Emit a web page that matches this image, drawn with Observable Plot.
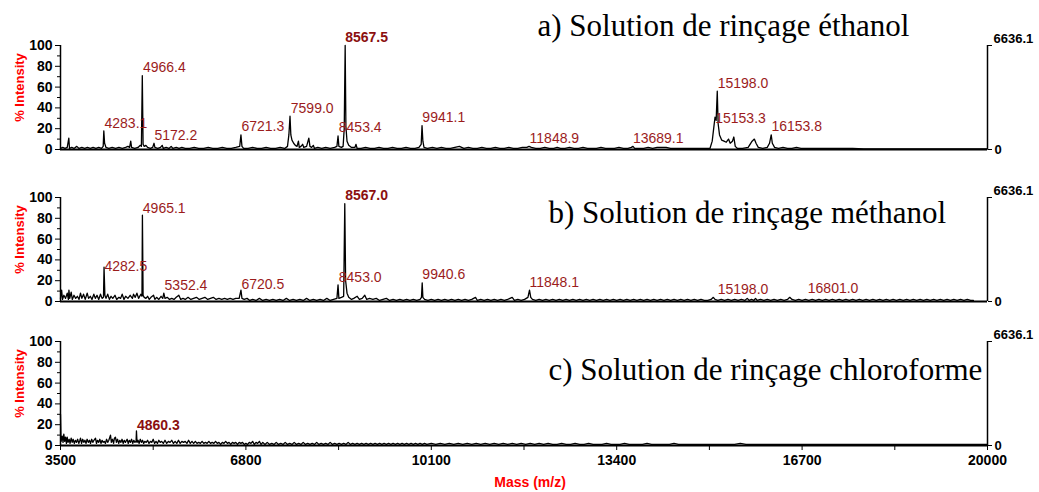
<!DOCTYPE html>
<html><head><meta charset="utf-8">
<script src="https://cdn.jsdelivr.net/npm/d3@7"></script>
<script src="https://cdn.jsdelivr.net/npm/@observablehq/plot@0.6"></script>
<style>body{margin:0;background:#fff}#chart{width:1039px;height:492px}#chart svg{display:block}</style>
</head><body><div id="chart"></div>
<script>
const xTicksMajor = [3500, 6800, 10100, 13400, 16700, 20000];
const xTicksMinor = [5150, 8450, 11750, 15050, 18350];
const yTicks = [0, 20, 40, 60, 80, 100];
const yTicksMinor = [10, 30, 50, 70, 90];
const maxCounts = 6636.1;
const titles = ["a) Solution de rinçage éthanol", "b) Solution de rinçage méthanol", "c) Solution de rinçage chloroforme"];
const xLabel = "Mass (m/z)";
const yLabel = "% Intensity";

// [mass, % intensity]
const spectrumA = [[3500,1],[3540,2],[3580,1],[3620,2],[3648,11],[3660,1],[3700,2],[3740,1],[3790,3],[3830,1],[3880,2],[3930,1],[3980,2],[4030,1],[4080,2],[4130,1],[4180,2],[4230,1],[4260,3],[4271,18],[4285,6],[4310,2],[4360,1],[4420,2],[4480,1],[4540,2],[4600,1],[4660,2],[4700,3],[4730,2],[4750,8],[4765,2],[4820,1],[4880,2],[4920,4],[4940,3],[4956,71],[4970,5],[4990,3],[5020,4],[5050,2],[5100,1],[5140,2],[5165,6],[5180,2],[5230,1],[5280,2],[5310,4],[5330,1],[5380,2],[5430,1],[5470,3],[5500,1],[5560,2],[5610,1],[5660,2],[5720,1],[5800,1],[5880,2],[5960,1],[6050,1],[6130,2],[6210,1],[6300,1],[6380,2],[6460,1],[6540,1],[6620,2],[6690,3],[6712,14],[6730,3],[6760,1],[6840,1],[6920,2],[7000,1],[7080,1],[7160,2],[7240,1],[7330,1],[7410,2],[7490,1],[7540,3],[7565,14],[7585,32],[7600,14],[7620,9],[7650,6],[7680,4],[7710,3],[7735,8],[7750,2],[7780,3],[7810,5],[7830,2],[7880,3],[7920,11],[7940,3],[7970,2],[8000,4],[8020,1],[8080,2],[8150,1],[8220,2],[8300,1],[8380,2],[8420,3],[8440,13],[8455,3],[8500,2],[8530,3],[8550,20],[8567,100],[8580,22],[8600,8],[8630,4],[8680,2],[8740,2],[8760,5],[8780,1],[8850,1],[8930,2],[9010,1],[9090,1],[9170,2],[9250,1],[9330,1],[9410,2],[9490,1],[9570,1],[9650,2],[9730,1],[9810,1],[9880,2],[9920,5],[9935,23],[9950,8],[9970,2],[10030,1],[10120,2],[10200,1],[10280,2],[10360,1],[10440,1],[10520,2],[10600,3],[10680,1],[10760,2],[10840,1],[10920,1],[11000,2],[11080,1],[11160,1],[11240,2],[11320,1],[11400,1],[11480,2],[11560,1],[11640,1],[11720,2],[11800,2],[11840,3],[11880,2],[11960,1],[12040,1],[12120,2],[12200,1],[12280,1],[12340,2],[12400,1],[12480,1],[12560,2],[12640,1],[12720,1],[12800,2],[12880,1],[12960,1],[13040,1],[13120,2],[13200,1],[13280,1],[13360,1],[13440,2],[13520,1],[13600,1],[13660,2],[13690,3],[13720,1],[13800,1],[13880,1],[13960,2],[14040,1],[14120,2],[14200,2],[14280,2],[14360,1],[14440,1],[14520,1],[14600,1],[14680,1],[14760,1],[14840,1],[14920,1],[15000,1],[15060,1],[15100,8],[15130,22],[15150,31],[15170,28],[15190,56],[15205,25],[15230,14],[15270,9],[15310,8],[15350,7],[15390,10],[15420,6],[15460,8],[15485,12],[15510,3],[15550,1],[15640,1],[15740,2],[15810,8],[15850,10],[15880,6],[15920,2],[16000,1],[16080,2],[16120,6],[16150,14],[16170,6],[16210,2],[16280,1],[16360,2],[16440,1],[16520,1],[16600,2],[16680,1],[16760,1],[16840,1],[16920,1],[17000,1],[17150,1],[17300,1],[17450,1],[17600,1],[17800,0.5],[18000,0.5],[18500,0.5],[19000,0.5],[19500,0.5],[20000,0.5]];

const spectrumB = [[3500,3],[3520,11],[3535,2],[3560,6],[3590,3],[3620,8],[3640,2],[3650,11],[3665,3],[3690,9],[3710,2],[3740,6],[3770,3],[3800,5],[3830,2],[3856,8],[3880,3],[3910,7],[3940,2],[3975,8],[4000,3],[4030,5],[4060,2],[4093,7],[4120,3],[4150,6],[4180,2],[4212,7],[4240,3],[4265,4],[4275,33],[4290,6],[4310,3],[4340,7],[4370,2],[4400,5],[4430,3],[4470,6],[4500,2],[4540,4],[4570,3],[4598,7],[4630,2],[4660,5],[4700,3],[4740,6],[4780,3],[4800,7],[4830,4],[4860,8],[4890,3],[4930,7],[4950,5],[4958,83],[4970,6],[4990,4],[5020,3],[5050,5],[5080,2],[5110,4],[5156,6],[5180,2],[5210,4],[5250,2],[5290,5],[5320,3],[5339,8],[5360,3],[5400,4],[5440,2],[5480,3],[5520,2],[5560,4],[5606,6],[5640,2],[5680,3],[5720,2],[5770,4],[5820,2],[5870,3],[5920,4],[5970,2],[6020,3],[6070,4],[6120,2],[6170,3],[6220,4],[6270,2],[6320,3],[6370,2],[6420,3],[6470,2],[6520,3],[6570,2],[6620,3],[6680,3],[6712,11],[6730,3],[6770,2],[6820,3],[6870,1],[6920,2],[6980,1],[7040,3],[7100,1],[7160,2],[7220,1],[7280,2],[7340,1],[7400,2],[7460,1],[7520,3],[7580,1],[7640,2],[7700,1],[7760,2],[7820,1],[7880,3],[7940,1],[8000,2],[8060,1],[8120,2],[8180,1],[8240,3],[8300,1],[8360,2],[8420,3],[8440,16],[8455,3],[8500,4],[8540,5],[8560,94],[8575,20],[8600,8],[8630,4],[8680,2],[8720,3],[8781,5],[8820,2],[8870,3],[8916,6],[8950,2],[9000,3],[9060,2],[9120,3],[9180,1],[9240,2],[9300,3],[9360,1],[9420,2],[9480,1],[9540,2],[9600,1],[9660,2],[9720,1],[9780,2],[9840,1],[9900,2],[9925,4],[9938,18],[9950,4],[9980,2],[10040,1],[10100,2],[10160,1],[10220,2],[10280,1],[10340,2],[10400,1],[10460,2],[10520,1],[10580,2],[10640,1],[10700,2],[10760,1],[10820,2],[10887,4],[10920,1],[10980,2],[11040,1],[11100,2],[11160,1],[11220,2],[11280,1],[11340,2],[11400,1],[11460,2],[11540,4],[11580,1],[11640,2],[11700,1],[11760,2],[11820,4],[11848,11],[11870,4],[11900,2],[11960,1],[12020,2],[12080,1],[12140,2],[12200,1],[12260,2],[12320,1],[12380,2],[12440,1],[12500,2],[12560,1],[12620,2],[12680,1],[12740,2],[12800,1],[12860,2],[12920,1],[12980,2],[13040,1],[13100,2],[13160,1],[13220,2],[13280,1],[13340,2],[13400,1],[13460,2],[13520,1],[13580,2],[13640,1],[13700,2],[13760,1],[13820,2],[13880,1],[13940,2],[14000,1],[14060,2],[14120,1],[14180,2],[14240,1],[14300,2],[14360,1],[14420,2],[14480,1],[14540,2],[14600,1],[14660,2],[14720,1],[14780,2],[14840,1],[14900,2],[14960,1],[15020,1],[15080,2],[15120,4],[15150,2],[15200,1],[15260,2],[15320,1],[15380,2],[15440,1],[15500,2],[15560,1],[15620,2],[15680,1],[15723,3],[15760,1],[15800,2],[15840,1],[15871,3],[15900,1],[15960,2],[16020,1],[16080,2],[16140,1],[16200,2],[16260,1],[16320,2],[16380,1],[16440,2],[16480,4],[16520,2],[16580,1],[16640,2],[16700,1],[16760,2],[16820,1],[16880,2],[16940,1],[17000,2],[17060,1],[17120,2],[17180,1],[17240,2],[17300,1],[17360,2],[17420,1],[17480,2],[17540,1],[17600,2],[17660,1],[17720,2],[17780,1],[17840,2],[17900,1],[17960,2],[18020,1],[18080,2],[18140,1],[18200,2],[18260,1],[18320,2],[18380,1],[18440,2],[18500,1],[18560,2],[18620,1],[18680,2],[18740,1],[18800,2],[18860,1],[18920,2],[18980,1],[19040,2],[19100,1],[19160,2],[19220,1],[19280,2],[19340,1],[19400,2],[19460,1],[19520,2],[19580,1],[19640,2],[19700,1],[19750,1]];

const spectrumC = [[3500,30],[3510,4],[3530,9],[3545,3],[3559,11],[3575,4],[3590,8],[3605,2],[3619,8],[3635,3],[3655,6],[3670,2],[3690,7],[3708,3],[3725,6],[3745,2],[3765,5],[3785,3],[3805,6],[3825,2],[3845,5],[3856,7],[3875,2],[3895,6],[3915,3],[3935,5],[3955,2],[3974,6],[3995,3],[4015,5],[4035,2],[4055,6],[4075,3],[4095,5],[4123,7],[4140,2],[4160,5],[4180,3],[4200,6],[4220,2],[4240,5],[4260,3],[4280,4],[4300,2],[4320,6],[4340,3],[4360,5],[4390,10],[4405,3],[4425,6],[4445,2],[4460,7],[4478,8],[4495,3],[4515,6],[4535,2],[4555,5],[4575,3],[4595,6],[4615,2],[4635,5],[4655,3],[4686,6],[4705,2],[4725,5],[4745,3],[4765,6],[4785,2],[4805,5],[4825,3],[4845,4],[4852,14],[4862,3],[4880,5],[4900,2],[4920,6],[4940,3],[4960,5],[4980,2],[5000,4],[5025,3],[5050,5],[5075,2],[5100,4],[5125,3],[5150,6],[5175,2],[5200,4],[5225,2],[5250,5],[5275,3],[5300,4],[5330,2],[5360,5],[5390,2],[5420,4],[5450,3],[5480,5],[5510,2],[5540,4],[5570,2],[5600,5],[5630,2],[5660,4],[5690,3],[5720,4],[5750,2],[5780,5],[5810,2],[5840,4],[5870,2],[5900,4],[5930,2],[5960,3],[5990,2],[6020,4],[6050,2],[6080,3],[6110,2],[6140,4],[6170,2],[6200,3],[6230,2],[6260,4],[6290,2],[6320,3],[6350,1],[6380,3],[6410,2],[6440,4],[6470,2],[6500,3],[6530,1],[6560,3],[6590,2],[6620,3],[6650,1],[6680,3],[6710,2],[6740,3],[6770,1],[6800,2],[6830,1],[6860,3],[6890,2],[6920,4],[6950,1],[6980,3],[7010,2],[7040,4],[7070,1],[7100,3],[7140,1],[7180,3],[7220,1],[7260,2],[7300,1],[7340,3],[7380,1],[7420,2],[7460,1],[7500,3],[7540,1],[7580,2],[7620,1],[7660,3],[7700,1],[7740,2],[7780,1],[7820,3],[7860,1],[7900,2],[7940,1],[7980,2],[8020,1],[8060,3],[8100,1],[8140,2],[8180,1],[8220,2],[8260,1],[8300,3],[8340,1],[8380,2],[8420,1],[8460,2],[8500,1],[8540,2],[8580,1],[8620,3],[8660,1],[8700,2],[8740,1],[8780,2],[8820,1],[8860,2],[8900,1],[8940,2],[8980,1],[9020,2],[9060,1],[9100,2],[9140,1],[9180,2],[9220,1],[9260,2],[9300,1],[9340,2],[9380,1],[9420,2],[9460,1],[9500,2],[9540,1],[9580,2],[9620,1],[9660,2],[9700,1],[9740,2],[9780,1],[9820,2],[9860,1],[9900,2],[9940,1],[9980,2],[10020,1],[10100,2],[10180,1],[10260,2],[10340,1],[10420,2],[10500,1],[10580,2],[10660,1],[10740,2],[10820,1],[10900,2],[10980,1],[11060,2],[11140,1],[11220,2],[11300,1],[11380,2],[11460,1],[11540,2],[11620,1],[11700,2],[11780,1],[11860,2],[11940,1],[12020,2],[12100,1],[12180,2],[12260,1],[12340,1],[12420,2],[12500,1],[12580,1],[12660,2],[12740,1],[12820,1],[12900,2],[12980,1],[13060,1],[13140,1],[13220,2],[13300,1],[13380,1],[13460,1],[13540,2],[13620,1],[13700,1],[13780,1],[13860,1],[13940,2],[14020,1],[14100,1],[14180,1],[14260,1],[14340,1],[14420,2],[14500,1],[14600,1],[14700,1],[14800,1],[14900,1],[15000,1],[15100,1],[15200,1],[15300,1],[15400,1],[15500,1],[15600,2],[15700,1],[15800,1],[15900,1],[16000,1],[16200,1],[16400,1],[16600,1],[16800,1],[17000,1],[17200,1],[17400,1],[17600,1],[17800,1],[18000,1],[18300,1],[18600,1],[18900,1],[19200,1],[19500,1],[19800,1],[20000,1]];

// peak labels: [mass, % intensity of labelled peak]
const labelsA = [[4283.1,17],[4966.4,71],[5172.2,6],[6721.3,14],[7599.0,32],[8453.4,13],[8567.5,100],[9941.1,23],[11848.9,3],[13689.1,3],[15198.0,56],[15153.3,22],[16153.8,14]];
const labelsB = [[4282.5,26],[4965.1,82],[5352.4,8],[6720.5,9],[8453.0,15],[8567.0,94],[9940.6,18],[11848.1,11],[15198.0,4],[16801.0,5]];
const labelsC = [[4860.3,12]];

const sans = "Arial, 'Liberation Sans', Helvetica, sans-serif";
const serif = "'Times New Roman', 'Liberation Serif', Times, serif";
const labelColor = "#9b1c1c";

function panel({spectrum, labels, title, height, marginTop, marginBottom, titleDx, titleDy, showX}) {
  const maxLevel = d3.max(labels, d => d[1]);
  const marks = [
    Plot.ruleY([0], {stroke: "black", strokeWidth: 2}),
    Plot.lineY(spectrum, {x: d => d[0], y: d => d[1], stroke: "black", strokeWidth: 1.3}),
    Plot.ruleX([xTicksMajor[0]], {stroke: "black", strokeWidth: 1.5}),
    Plot.ruleX([xTicksMajor[xTicksMajor.length - 1]], {stroke: "black", strokeWidth: 1.5}),
    Plot.axisY({anchor: "left", ticks: yTicks, tickSize: 5, tickPadding: 3, fontSize: 14, fontWeight: "bold", label: null}),
    Plot.axisY({anchor: "left", ticks: yTicksMinor, tickSize: 3, tickFormat: () => "", label: null}),
    Plot.axisY({anchor: "right", ticks: [0, 100], tickSize: 4, tickPadding: 3, tickFormat: d => d === 0 ? "0" : "", fontSize: 13, fontWeight: "bold", label: null}),
    Plot.text([100], {y: d => d, frameAnchor: "right", text: () => maxCounts.toFixed(1), dx: 6, dy: -7, textAnchor: "start", fontSize: 13, fontWeight: "bold", fill: "black"}),
    Plot.text([yLabel], {frameAnchor: "left", textAnchor: "middle", lineAnchor: "middle", rotate: -90, dx: -41, dy: -10, fill: "red", fontWeight: "bold", fontSize: 13}),
    Plot.text([title], {frameAnchor: "top-left", lineAnchor: "middle", dx: titleDx, dy: titleDy, textAnchor: "start", fontFamily: serif, fontSize: 31, fill: "black"}),
    Plot.text(labels.filter(d => d[1] !== maxLevel), {x: d => d[0], y: d => d[1], text: d => d[0].toFixed(1), textAnchor: "start", dy: -8, fill: labelColor, fontSize: 14}),
    Plot.text(labels.filter(d => d[1] === maxLevel), {x: d => d[0], y: d => d[1], text: d => d[0].toFixed(1), textAnchor: "start", dy: -8, fill: "#8b0f0f", fontSize: 14, fontWeight: "bold"})
  ];
  if (showX) {
    marks.push(
      Plot.axisX({ticks: xTicksMajor, tickSize: 5, tickPadding: 5, tickFormat: d => String(d), fontSize: 14, fontWeight: "bold", label: null}),
      Plot.axisX({ticks: xTicksMinor, tickSize: 5, tickFormat: () => "", label: null}),
      Plot.text([xLabel], {frameAnchor: "bottom", dx: 6, dy: 41, fill: "red", fontWeight: "bold", fontSize: 14})
    );
  }
  return Plot.plot({
    width: 1039,
    height,
    marginLeft: 60,
    marginRight: 52,
    marginTop,
    marginBottom,
    style: {fontFamily: sans, background: "white", color: "black", overflow: "visible"},
    x: {domain: [xTicksMajor[0], xTicksMajor[xTicksMajor.length - 1]], ...(showX ? {} : {axis: null})},
    y: {domain: [0, 100]},
    marks
  });
}

const chart = document.getElementById("chart");
chart.append(panel({spectrum: spectrumA, labels: labelsA, title: titles[0], height: 172, marginTop: 45, marginBottom: 23, titleDx: 477, titleDy: -19, showX: false}));
chart.append(panel({spectrum: spectrumB, labels: labelsB, title: titles[1], height: 148, marginTop: 25, marginBottom: 19, titleDx: 488, titleDy: 16, showX: false}));
chart.append(panel({spectrum: spectrumC, labels: labelsC, title: titles[2], height: 172, marginTop: 21, marginBottom: 47, titleDx: 488, titleDy: 29, showX: true}));
</script>
</body></html>
